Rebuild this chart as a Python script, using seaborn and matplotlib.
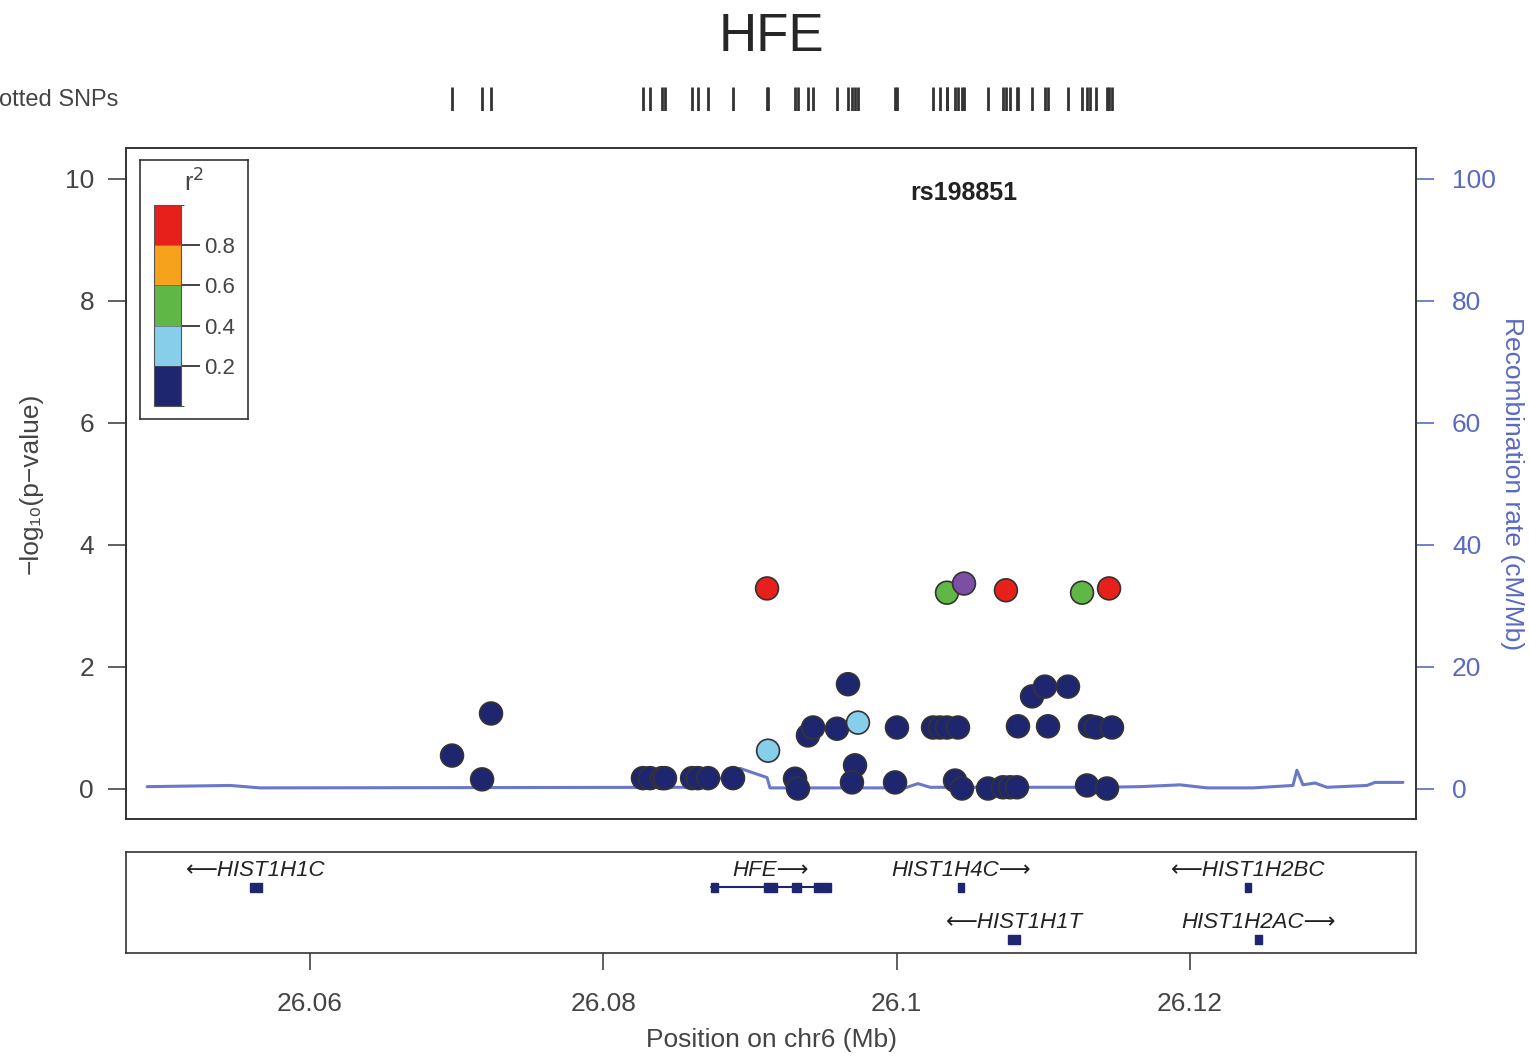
import numpy as np
import pandas as pd
import matplotlib
matplotlib.use("Agg")
import matplotlib.pyplot as plt
import seaborn as sns
from matplotlib.colors import ListedColormap, BoundaryNorm
from matplotlib.colorbar import ColorbarBase

# SNP positions (Mb), -log10 p and LD bin
pos = [26.06968, 26.07173, 26.07234, 26.08270, 26.08318, 26.08400, 26.08420,
       26.08605, 26.08645, 26.08714, 26.08884, 26.09116, 26.09123, 26.09307,
       26.09327, 26.09395, 26.09430, 26.09593, 26.09668, 26.09736, 26.09716,
       26.09695, 26.10002, 26.09989, 26.10343, 26.10459, 26.10248, 26.10295,
       26.10343, 26.10418, 26.10398, 26.10445, 26.10745, 26.10623, 26.10725,
       26.10773, 26.10820, 26.10827, 26.10923, 26.11011, 26.11032, 26.11168,
       26.11264, 26.11448, 26.11298, 26.11434, 26.11318, 26.11359, 26.11468]
logp = [0.54, 0.15, 1.23, 0.17, 0.17, 0.17, 0.17,
        0.17, 0.17, 0.17, 0.17, 3.28, 0.62, 0.16,
        0.0, 0.87, 1.0, 0.98, 1.71, 1.08, 0.38,
        0.1, 1.0, 0.1, 3.21, 3.36, 1.0, 1.0,
        1.0, 1.0, 0.13, 0.0, 3.25, 0.0, 0.02,
        0.02, 0.02, 1.02, 1.51, 1.67, 1.02, 1.67,
        3.21, 3.28, 0.05, 0.0, 1.02, 1.0, 1.0]
ld = ["low", "low", "low", "low", "low", "low", "low",
      "low", "low", "low", "low", "high", "mid", "low",
      "low", "low", "low", "low", "low", "mid", "low",
      "low", "low", "low", "green", "index", "low", "low",
      "low", "low", "low", "low", "high", "low", "low",
      "low", "low", "low", "low", "low", "low", "low",
      "green", "high", "low", "low", "low", "low", "low"]
index_snp = "rs198851"

# recombination rate (cM/Mb)
rec_pos = [26.04889, 26.05455, 26.05659, 26.08659, 26.08795, 26.08932, 26.09116,
           26.09136, 26.10057, 26.10145, 26.10227, 26.11386, 26.11659, 26.11932,
           26.12116, 26.12429, 26.12702, 26.12729, 26.12770, 26.12852, 26.12934,
           26.13207, 26.13261, 26.13452]
rec_rate = [0.3, 0.5, 0.1, 0.2, 1.6, 3.3, 1.8,
            0.1, 0.1, 0.8, 0.2, 0.2, 0.3, 0.6,
            0.1, 0.1, 0.5, 3.0, 0.6, 0.9, 0.2,
            0.5, 1.0, 1.0]

# genes
gene_name = ["HIST1H1C", "HFE", "HIST1H4C", "HIST1H2BC", "HIST1H1T", "HIST1H2AC"]
gene_start = [26.05591, 26.08734, 26.10418, 26.12375, 26.10759, 26.12443]
gene_end = [26.05673, 26.09552, 26.10459, 26.12416, 26.10841, 26.12491]
gene_strand = ["-", "+", "+", "-", "-", "+"]
gene_row = [0, 0, 0, 0, 1, 1]
hfe_exon_start = [26.08734, 26.09095, 26.09286, 26.09436]
hfe_exon_end = [26.08782, 26.09184, 26.09348, 26.09552]

ld_colors = {"low": "#1f2670", "mid": "#87ceeb", "green": "#5fb845",
             "orange": "#f7a21c", "high": "#e8201c", "index": "#7b4fa4"}
cbar_colors = ["#1f2670", "#87ceeb", "#5fb845", "#f7a21c", "#e8201c"]
rec_color = "#5a69c4"
grey = "#444444"

df = pd.DataFrame({"pos": pos, "logp": logp, "ld": ld})
rec = pd.DataFrame({"pos": rec_pos, "rate": rec_rate})

sns.set_style("ticks")
plt.rcParams["font.family"] = ["Liberation Sans", "DejaVu Sans"]

W, H = 1529, 1058
fig = plt.figure(figsize=(W / 100, H / 100), dpi=100)

def box(x0, y0, x1, y1):
    return [x0 / W, 1 - y1 / H, (x1 - x0) / W, (y1 - y0) / H]

xlim = (26.04745, 26.13541)

ax = fig.add_axes(box(126, 148, 1416, 819))
ax2 = ax.twinx()
ax.set_zorder(2)
ax.patch.set_visible(False)

sns.lineplot(data=rec, x="pos", y="rate", ax=ax2, color=rec_color, lw=2.2, alpha=0.9)
ax2.set_ylim(-5, 105)
ax2.set_yticks([0, 20, 40, 60, 80, 100])
ax2.tick_params(axis="y", colors=rec_color, labelsize=19, length=13, width=1.2, pad=13)
ax2.set_ylabel("Recombination rate (cM/Mb)", color=rec_color, fontsize=19, rotation=-90)
ax2.yaxis.set_label_coords(1.0837, 0.5)

order = ["low", "mid", "green", "high", "index"]
df["o"] = df["ld"].map({k: i for i, k in enumerate(order)})
df = df.sort_values("o", kind="stable")
sns.scatterplot(data=df, x="pos", y="logp", hue="ld", palette=ld_colors, ax=ax,
                s=270, edgecolor="#333333", linewidth=1.2, legend=False, zorder=3)
ax.set_xlim(*xlim)
ax.set_ylim(-0.5, 10.5)
ax.set_yticks([0, 2, 4, 6, 8, 10])
ax.set_xticks([])
ax.set_xlabel("")
ax.set_ylabel("\u2212log\u2081\u2080(p\u2212value)", fontsize=19, color=grey)
ax.yaxis.set_label_coords(-0.0643, 0.5)
ax.tick_params(axis="y", colors=grey, labelsize=19, length=13, width=1.2, pad=10)
for a in (ax, ax2):
    for s in a.spines.values():
        s.set_color("#333333")
        s.set_linewidth(1.2)

ip = df[df["ld"] == "index"].iloc[0]
ax.text(ip["pos"], 9.77, index_snp, ha="center", va="center", fontsize=18,
        fontweight="bold", color="#222222")

# legend box with colorbar
lax = fig.add_axes(box(140, 160, 248, 419))
lax.set_xticks([])
lax.set_yticks([])
for s in lax.spines.values():
    s.set_color("#333333")
    s.set_linewidth(1.2)
lax.set_zorder(5)
lax.text(0.5, 0.91, "r$^2$", transform=lax.transAxes, ha="center", va="center",
         fontsize=18, color=grey)
cax = fig.add_axes(box(154, 205, 181, 406))
cax.set_zorder(6)
cb = ColorbarBase(cax, cmap=ListedColormap(cbar_colors),
                  norm=BoundaryNorm([0, 0.2, 0.4, 0.6, 0.8, 1.0], 5),
                  ticks=[0.2, 0.4, 0.6, 0.8], drawedges=True)
cb.outline.set_edgecolor("#555555")
cb.dividers.set_color("#555555")
cax.tick_params(length=14, width=1.2, labelsize=16, colors="#222222", pad=3)
for t in cax.get_yticklabels():
    t.set_color(grey)

# plotted SNPs rug
rax = fig.add_axes(box(126, 87, 1416, 111))
rax.vlines(pos, 0, 1, color="#333333", lw=2)
rax.set_xlim(*xlim)
rax.set_ylim(0, 1)
rax.axis("off")
fig.text(118 / W, 1 - 100 / H, "Plotted SNPs", ha="right", va="center",
         fontsize=17, color=grey)

fig.text(771 / W, 1 - 37 / H, "HFE", ha="center", va="center", fontsize=38)

# gene panel
gax = fig.add_axes(box(126, 852, 1416, 953))
gax.set_xlim(*xlim)
gax.set_ylim(0, 101)
gax.set_yticks([])
row_y = [66, 14]
gene_col = "#1f2670"
for name, st, en, strand, row in zip(gene_name, gene_start, gene_end, gene_strand, gene_row):
    y = row_y[row]
    if name == "HFE":
        gax.plot([st, en], [y, y], color=gene_col, lw=1.5)
        for es, ee in zip(hfe_exon_start, hfe_exon_end):
            gax.add_patch(plt.Rectangle((es, y - 4.5), ee - es, 9, color=gene_col))
    else:
        gax.add_patch(plt.Rectangle((st, y - 4.5), en - st, 9, color=gene_col))
    label = "\u27f5" + name if strand == "-" else name + "\u27f6"
    gax.text((st + en) / 2, y + 17, label, ha="center", va="center",
             fontsize=16, style="italic", color="#222222")
gax.set_xticks([26.06, 26.08, 26.1, 26.12])
gax.set_xticklabels(["26.06", "26.08", "26.1", "26.12"])
gax.tick_params(axis="x", colors=grey, labelsize=19, length=12, width=1.2, pad=16)
gax.set_xlabel("Position on chr6 (Mb)", fontsize=19, color=grey, labelpad=9)
for s in gax.spines.values():
    s.set_color("#333333")
    s.set_linewidth(1.2)

fig.savefig("out.png", dpi=100)
